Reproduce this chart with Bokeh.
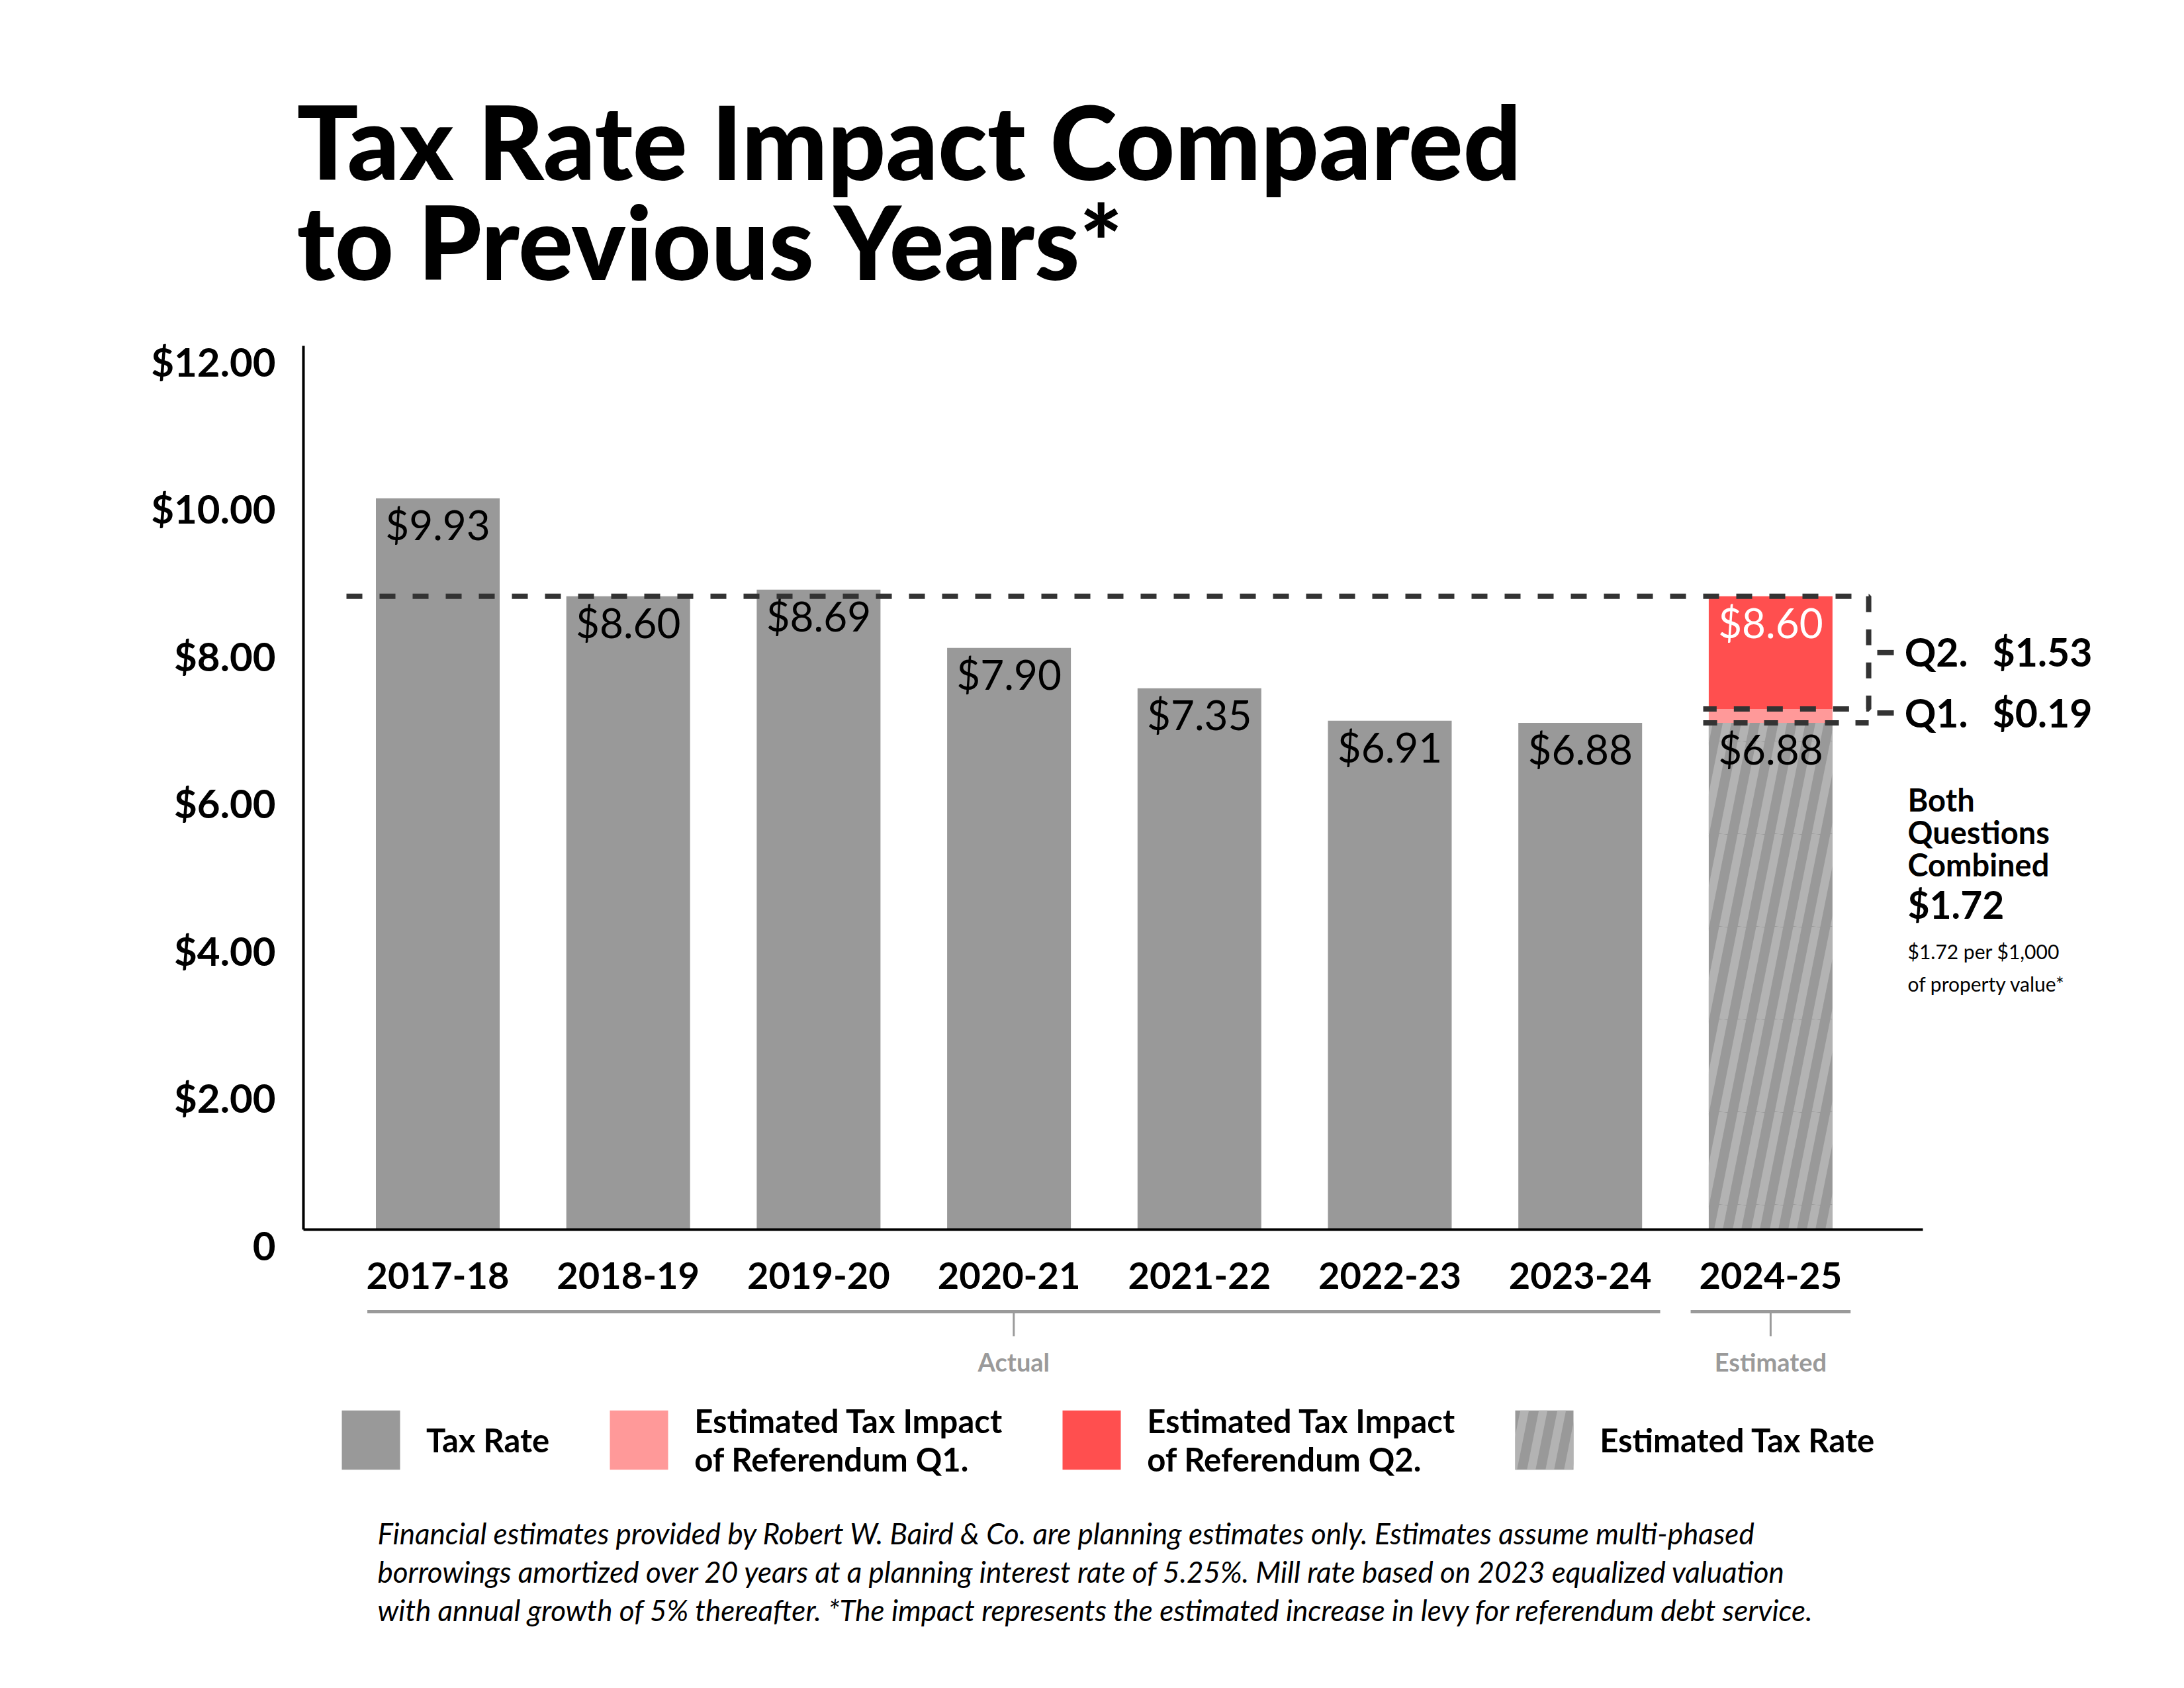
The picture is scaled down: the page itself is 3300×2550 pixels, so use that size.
import base64
from bokeh.plotting import figure
from bokeh.models import (Range1d, LinearAxis, FixedTicker, Legend, LegendItem,
                          ImageURLTexture, ColumnDataSource)
from bokeh.core.properties import value
from bokeh.embed import file_html
from bokeh.resources import INLINE

# ---------------- data ----------------
years = ["2017-18", "2018-19", "2019-20", "2020-21", "2021-22", "2022-23", "2023-24", "2024-25"]
actual_rates = [9.93, 8.60, 8.69, 7.90, 7.35, 6.91, 6.88]
estimated_rate = 6.88
q1_impact = 0.19
q2_impact = 1.53
y_ticks = [0, 2, 4, 6, 8, 10, 12]
y_tick_labels = ["0", "$2.00", "$4.00", "$6.00", "$8.00", "$10.00", "$12.00"]
group_labels = ["Actual", "Estimated"]
legend_labels = ["Tax Rate", "Estimated Tax Impact\nof Referendum Q1.",
                 "Estimated Tax Impact\nof Referendum Q2.", "Estimated Tax Rate"]
title_lines = ["Tax Rate Impact Compared", "to Previous Years*"]
note_lines = [
    "Financial estimates provided by Robert W. Baird & Co. are planning estimates only. Estimates assume multi-phased",
    "borrowings amortized over 20 years at a planning interest rate of 5.25%. Mill rate based on 2023 equalized valuation",
    "with annual growth of 5% thereafter. *The impact represents the estimated increase in levy for referendum debt service.",
]

# ---------------- layout / style ----------------
W, H = 3300, 2550
X0_PAGE, X_STEP = 661.0, 287.7      # page x of first category, spacing
Y0_PAGE, Y_UNIT = 1857.0, 111.25    # page y of value 0, px per unit
F = "Lato"
F_TITLE = "'Lato Black', Lato"
K = 0.37                            # baseline correction (fraction of font size)
GRAY = "#999999"
STRIPE = "#b3b3b3"
Q1C = "#ff9999"
Q2C = "#ff4f4f"
DASH = "#333333"
GROUP_GRAY = "#9a9a9a"
BAR_W = 0.65
AXIS_X = (458 - X0_PAGE) / X_STEP
X_AXIS_END = (2905 - X0_PAGE) / X_STEP
LABEL_SHIFT = 0.21

x_range = Range1d((0 - X0_PAGE) / X_STEP, (W - X0_PAGE) / X_STEP)
y_range = Range1d((Y0_PAGE - H) / Y_UNIT, Y0_PAGE / Y_UNIT)

p = figure(width=W, height=H, output_backend="svg", toolbar_location=None,
           x_range=x_range, y_range=y_range, min_border=0)
p.min_border_left = 0
p.min_border_right = 0
p.min_border_top = 0
p.min_border_bottom = 0
p.outline_line_color = None
p.grid.visible = False
p.background_fill_color = "white"
p.border_fill_color = "white"

p.extra_x_ranges = {"px": Range1d(0, W)}
p.extra_y_ranges = {"py": Range1d(H, 0),
                    "ylab": Range1d(y_range.start + LABEL_SHIFT, y_range.end + LABEL_SHIFT)}


def off(fs):
    return -round(K * fs)


# ---------------- bars ----------------
idx = list(range(len(years)))
est_x = idx[-1]
src = ColumnDataSource(dict(x=idx[:-1], top=actual_rates,
                            label=[f"${v:.2f}" for v in actual_rates]))
r_tax = p.vbar(x="x", top="top", width=BAR_W, source=src, fill_color=GRAY, line_color=None)

# slanted stripe texture (tile 140 px, 5 stripes)
n, s = 5, 140
w = s / n
lines = "".join(f'<line x1="{i * w}" y1="{s}" x2="{(i + 1) * w}" y2="0"/>' for i in range(-1, n + 1))
svg = (f'<svg xmlns="http://www.w3.org/2000/svg" width="{s}" height="{s}" viewBox="0 0 {s} {s}">'
       f'<g stroke="{STRIPE}" stroke-width="12.7">{lines}</g></svg>')
stripes = ImageURLTexture(url="data:image/svg+xml;base64," + base64.b64encode(svg.encode()).decode(),
                          repetition="repeat")

base = estimated_rate
q1_top = base + q1_impact
total = q1_top + q2_impact
r_est = p.vbar(x=[est_x], top=[base], width=BAR_W, fill_color=GRAY, line_color=None,
               hatch_pattern=value("stripes"), hatch_extra={"stripes": stripes},
               hatch_color=STRIPE, hatch_scale=s)
r_q1 = p.vbar(x=[est_x], bottom=[base], top=[q1_top], width=BAR_W, fill_color=Q1C, line_color=None)
r_q2 = p.vbar(x=[est_x], bottom=[q1_top], top=[total], width=BAR_W, fill_color=Q2C, line_color=None)

# bar value labels
BL_FS = 62
lab_kw = dict(text_align="center", text_baseline="alphabetic", y_offset=62 + off(BL_FS),
              text_font=value(F), text_font_size=f"{BL_FS}px")
p.text(x="x", y="top", text="label", source=src, text_color="black", **lab_kw)
p.text(x=[est_x], y=[base], text=[f"${base:.2f}"], text_color="black", **lab_kw)
p.text(x=[est_x], y=[total], text=[f"${total:.2f}"], text_color="white", **lab_kw)

# ---------------- axes ----------------
xax = p.xaxis[0]
xax.fixed_location = 0
xax.bounds = (AXIS_X, X_AXIS_END)
xax.ticker = FixedTicker(ticks=idx)
xax.major_label_overrides = {i: y for i, y in zip(idx, years)}
xax.axis_line_width = 4
xax.axis_line_color = "black"
xax.major_tick_line_color = None
xax.minor_tick_line_color = None
xax.major_tick_out = 0
xax.major_label_standoff = 49
xax.major_label_text_font = F
xax.major_label_text_font_style = "bold"
xax.major_label_text_font_size = "56px"
xax.major_label_text_color = "black"

yax = p.yaxis[0]
yax.fixed_location = AXIS_X
yax.bounds = (0, 12)
yax.ticker = FixedTicker(ticks=[])
yax.axis_line_width = 4
yax.axis_line_color = "black"
yax.major_tick_line_color = None
yax.minor_tick_line_color = None

ylab = LinearAxis(y_range_name="ylab", ticker=FixedTicker(ticks=y_ticks),
                  major_label_overrides={t: lb for t, lb in zip(y_ticks, y_tick_labels)},
                  axis_line_color=None, major_tick_line_color=None, minor_tick_line_color=None,
                  major_tick_out=0, major_label_standoff=42, fixed_location=AXIS_X,
                  major_label_text_font=F, major_label_text_font_style="bold",
                  major_label_text_font_size="60px", major_label_text_color="black")
p.add_layout(ylab, "left")

# ---------------- dashed bracket (Q1 / Q2) ----------------
BR = est_x + 0.515
dash_left = (523 - X0_PAGE) / X_STEP
q_left = est_x - 0.354
p.line(x=[dash_left, BR, BR, q_left], y=[total, total, q1_top, q1_top],
       line_color=DASH, line_width=8, line_dash="24 26")
p.line(x=[q_left, BR], y=[base, base], line_color=DASH, line_width=8, line_dash="21 25")
q_mid = [(q1_top + total) / 2, (base + q1_top) / 2 + 0.04]
p.segment(x0=[BR + 0.045] * 2, x1=[BR + 0.132] * 2, y0=q_mid, y1=q_mid,
          line_color=DASH, line_width=8)
Q_FS = 59
qt_kw = dict(text_baseline="alphabetic", y_offset=21 + off(Q_FS), text_font=value(F),
             text_font_style="bold", text_font_size=f"{Q_FS}px", text_color="black")
p.text(x=[BR + 0.188] * 2, y=q_mid, text=["Q2.", "Q1."], **qt_kw)
p.text(x=[BR + 0.65] * 2, y=q_mid, text=[f"${q2_impact:.2f}", f"${q1_impact:.2f}"], **qt_kw)


def page_text(xs, ys, texts, fs, style="normal", color="black", font=F, align="left"):
    p.text(x=xs, y=ys, text=texts, x_range_name="px", y_range_name="py",
           text_baseline="alphabetic", text_align=align, y_offset=off(fs),
           text_font=value(font), text_font_style=style, text_font_size=f"{fs}px",
           text_color=color)


# combined note
combined = q1_impact + q2_impact
page_text([2882] * 3, [1224, 1273, 1322], ["Both", "Questions", "Combined"], 47, "bold")
page_text([2882], [1386], [f"${combined:.2f}"], 57, "bold")
page_text([2882] * 2, [1447, 1496], [f"${combined:.2f} per $1,000", "of property value*"], 30)

# ---------------- title ----------------
page_text([448] * 2, [269, 420], title_lines, 154, "bold", font=F_TITLE)

# ---------------- Actual / Estimated groups ----------------
gx0 = [idx[0] - 0.37, est_x - 0.42]
gx1 = [idx[-2] + 0.42, est_x + 0.42]
gmid = [(a + b) / 2 for a, b in zip(gx0, gx1)]
p.segment(x0=gx0, x1=gx1, y0=[1981] * 2, y1=[1981] * 2, y_range_name="py",
          line_color=GROUP_GRAY, line_width=5)
p.segment(x0=gmid, x1=gmid, y0=[1981] * 2, y1=[2018] * 2, y_range_name="py",
          line_color=GROUP_GRAY, line_width=3)
G_FS = 38
p.text(x=gmid, y=[2070] * 2, text=group_labels, y_range_name="py", text_align="center",
       text_baseline="alphabetic", y_offset=off(G_FS), text_font=value(F), text_font_style="bold",
       text_font_size=f"{G_FS}px", text_color=GROUP_GRAY)

# ---------------- footnote ----------------
page_text([570] * 3, [2331, 2389, 2447], note_lines, 44, "italic")

# ---------------- legend ----------------
legend = Legend(items=[LegendItem(label=legend_labels[0], renderers=[r_tax]),
                       LegendItem(label=legend_labels[1], renderers=[r_q1]),
                       LegendItem(label=legend_labels[2], renderers=[r_q2]),
                       LegendItem(label=legend_labels[3], renderers=[r_est])],
                orientation="horizontal", location=(505, H - 2233),
                glyph_width=110, glyph_height=112, label_standoff=29, spacing=80,
                padding=0, margin=0, border_line_color=None, background_fill_alpha=0,
                label_text_font=F, label_text_font_style="bold", label_text_font_size="49px",
                label_text_line_height=1.0, label_text_color="black")
p.add_layout(legend)

open("out.html", "w").write(file_html(p, INLINE))
